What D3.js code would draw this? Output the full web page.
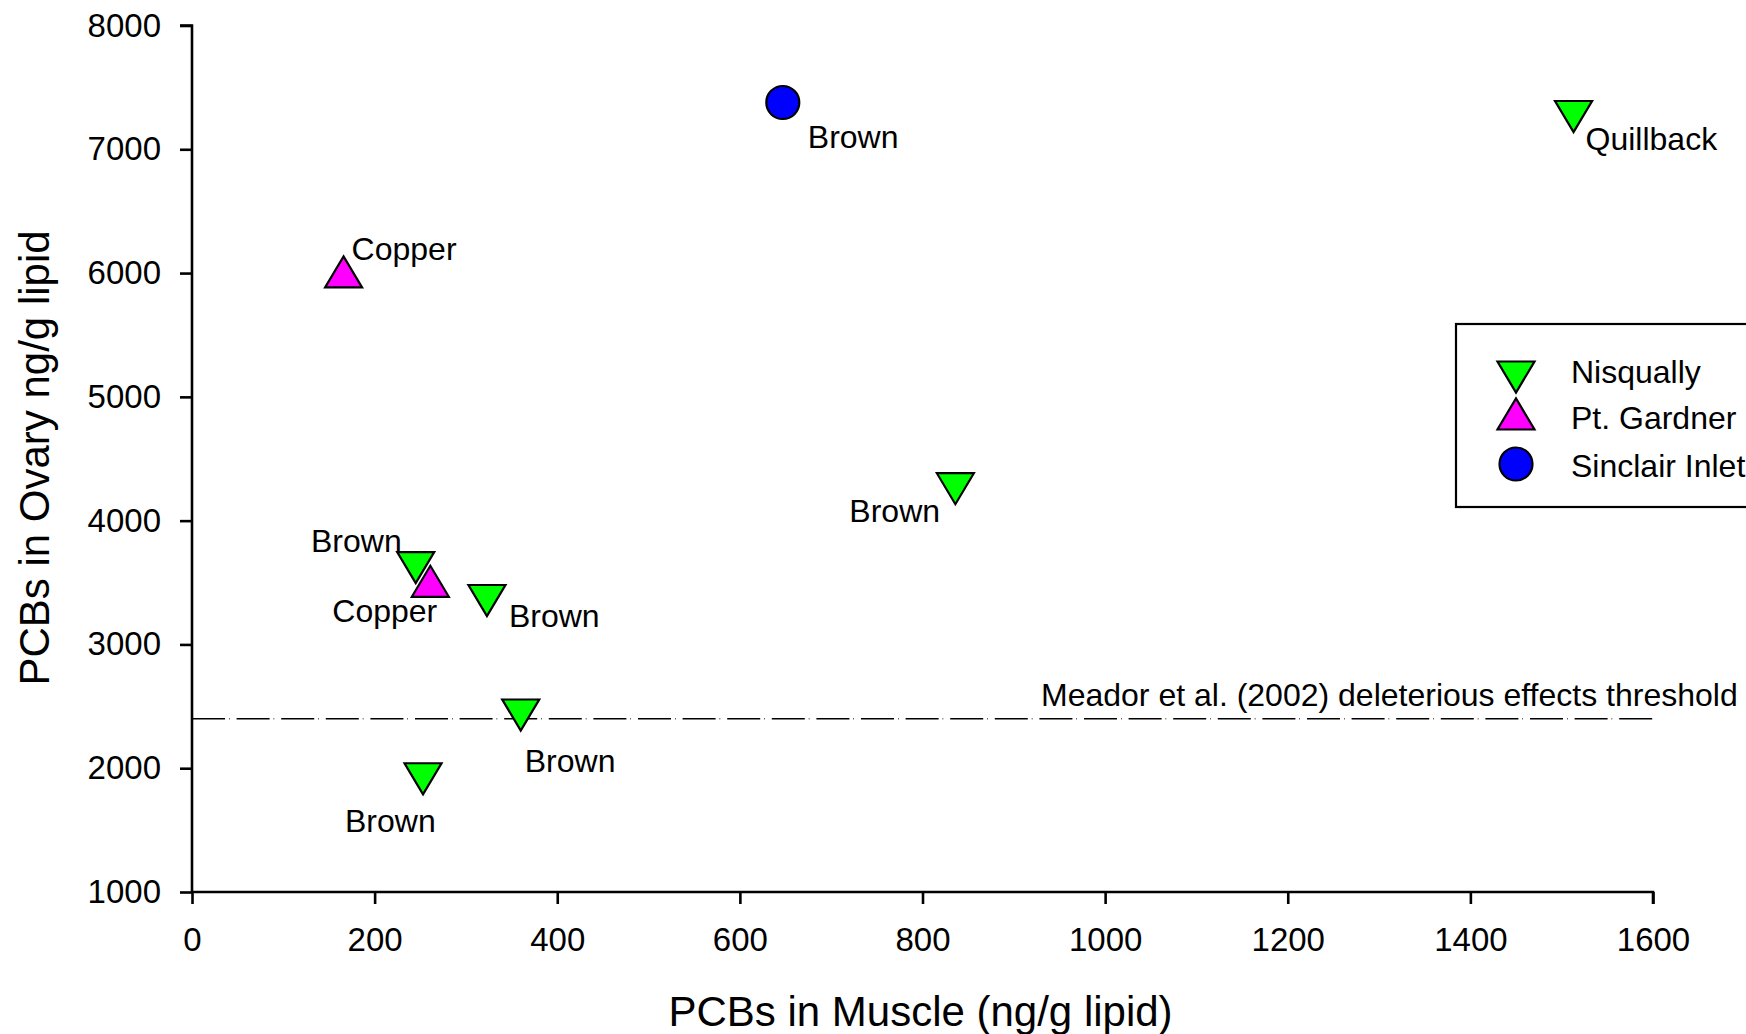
<!DOCTYPE html>
<html>
<head>
<meta charset="utf-8">
<script src="https://cdn.jsdelivr.net/npm/d3@7"></script>
<style>
  html, body { margin: 0; padding: 0; background: #fff; }
  svg { display: block; font-family: "Liberation Sans", Arial, sans-serif; }
</style>
</head>
<body>
<svg id="chart" width="1746" height="1034"></svg>
<script>
// ---- data ----
const siteNames = ["Nisqually", "Pt. Gardner", "Sinclair Inlet"];
const pointSite = ["Pt. Gardner", "Nisqually", "Pt. Gardner", "Nisqually", "Nisqually", "Nisqually", "Nisqually", "Nisqually", "Sinclair Inlet"];
const pointSpecies = ["Copper", "Brown", "Copper", "Brown", "Brown", "Brown", "Brown", "Quillback", "Brown"];
const muscleValues = [166, 245, 261, 323, 360, 253, 836, 1513, 647];
const ovaryValues = [6010, 3620, 3510, 3355, 2430, 1915, 4258, 7265, 7378];
const xTicks = [0, 200, 400, 600, 800, 1000, 1200, 1400, 1600];
const yTicks = [1000, 2000, 3000, 4000, 5000, 6000, 7000, 8000];
const thresholdValue = 2400;
const thresholdLabel = "Meador et al. (2002) deleterious effects threshold";
const xTitle = "PCBs in Muscle (ng/g lipid)";
const yTitle = "PCBs in Ovary ng/g lipid";

// ---- layout / style ----
const siteColor = { "Nisqually": "#00ff00", "Pt. Gardner": "#ff00ff", "Sinclair Inlet": "#0000ff" };
const siteShape = { "Nisqually": "down", "Pt. Gardner": "up", "Sinclair Inlet": "circle" };
// label offsets relative to the marker centre [dx, dy, anchor]
const labelOffsets = [[8, -12, "start"], [-14, -16, "end"], [-98, 41, "start"], [22, 27, "start"],
                      [4, 57, "start"], [-78, 53, "start"], [-106, 33, "start"], [12, 34, "start"], [25, 46, "start"]];

const svg = d3.select("#chart");
const x = d3.scaleLinear().domain([0, 1600]).range([192, 1653]);
const y = d3.scaleLinear().domain([1000, 8000]).range([892, 25.5]);

function markerPath(shape, w, h) {
  if (shape === "down") return `M${-w/2},${-h/2}L${w/2},${-h/2}L0,${h/2}Z`;
  if (shape === "up") return `M${-w/2},${h/2}L${w/2},${h/2}L0,${-h/2}Z`;
  return null;
}
function drawMarker(g, shape, color) {
  if (shape === "circle") {
    g.append("circle").attr("r", 16.5).attr("fill", color).attr("stroke", "#000").attr("stroke-width", 2.2);
  } else {
    g.append("path").attr("d", markerPath(shape, 37, 31)).attr("fill", color)
      .attr("stroke", "#000").attr("stroke-width", 2.2).attr("stroke-linejoin", "miter");
  }
}

// axes
const xAxis = d3.axisBottom(x).tickValues(xTicks).tickSize(12).tickPadding(24).tickFormat(d3.format("d"));
const yAxis = d3.axisLeft(y).tickValues(yTicks).tickSize(12).tickPadding(19).tickFormat(d3.format("d"));
const gx = svg.append("g").attr("transform", `translate(0,${y(1000)})`).call(xAxis);
const gy = svg.append("g").attr("transform", `translate(${x(0)},0)`).call(yAxis);
[gx, gy].forEach(g => {
  g.selectAll("path.domain").attr("stroke", "#000").attr("stroke-width", 2.6);
  g.selectAll(".tick line").attr("stroke", "#000").attr("stroke-width", 2.6);
  g.selectAll(".tick text").attr("font-size", 33).attr("fill", "#000")
    .attr("font-family", "'Liberation Sans', Arial, sans-serif");
});
gx.select("path.domain").attr("d", `M${x(0)},0H${x(1600)}V12`);
gy.select("path.domain").attr("d", `M-12,${y(8000)}H0V${y(1000)}`);

// axis titles
svg.append("text").attr("x", (x(0) + x(1600)) / 2 - 2).attr("y", 1026)
  .attr("text-anchor", "middle").attr("font-size", 42).text(xTitle);
svg.append("text").attr("transform", `translate(49,458) rotate(-90)`)
  .attr("text-anchor", "middle").attr("font-size", 42).text(yTitle);

// threshold line
svg.append("line").attr("x1", x(0)).attr("x2", x(1600))
  .attr("y1", y(thresholdValue)).attr("y2", y(thresholdValue))
  .attr("stroke", "#000").attr("stroke-width", 1.6).attr("stroke-dasharray", "33,4,0.6,7");
svg.append("text").attr("x", 1041).attr("y", y(thresholdValue) - 13)
  .attr("font-size", 32).text(thresholdLabel);

// points
const pts = muscleValues.map((m, i) => ({ m, o: ovaryValues[i], site: pointSite[i], sp: pointSpecies[i], off: labelOffsets[i] }));
pts.forEach(p => {
  const g = svg.append("g").attr("transform", `translate(${x(p.m)},${y(p.o)})`);
  drawMarker(g, siteShape[p.site], siteColor[p.site]);
});
pts.forEach(p => {
  svg.append("text").attr("x", x(p.m) + p.off[0]).attr("y", y(p.o) + p.off[1])
    .attr("text-anchor", p.off[2]).attr("font-size", 32).text(p.sp);
});

// legend
const leg = svg.append("g");
leg.append("rect").attr("x", 1456).attr("y", 324).attr("width", 330).attr("height", 183)
  .attr("fill", "#fff").attr("stroke", "#000").attr("stroke-width", 2.2);
const legMarkY = [377, 414, 464];
const legTextY = [383, 429, 477];
siteNames.forEach((s, i) => {
  const g = leg.append("g").attr("transform", `translate(1516,${legMarkY[i]})`);
  drawMarker(g, siteShape[s], siteColor[s]);
  leg.append("text").attr("x", 1571).attr("y", legTextY[i]).attr("font-size", 32).text(s);
});
</script>
</body>
</html>
